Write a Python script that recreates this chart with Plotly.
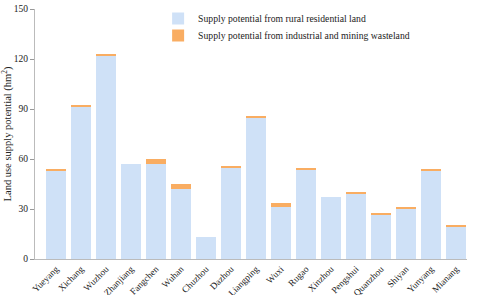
import plotly.graph_objects as go

cities = ["Yueyang", "Xichang", "Wuzhou", "Zhanjiang", "Fangchen", "Wuhan", "Chuzhou",
          "Dazhou", "Liangping", "Wuxi", "Rugao", "Xinzhou", "Pengshui", "Quanzhou",
          "Shiyan", "Yunyang", "Mianang"]
rural = [52.6, 91.0, 122.0, 57.0, 57.3, 42.2, 13.0, 54.7, 84.9, 31.4, 53.7, 37.2, 39.1, 26.9, 30.3, 52.9, 19.5]
industrial = [1.5, 1.5, 0.8, 0.0, 2.5, 2.8, 0.0, 0.6, 0.7, 2.2, 0.7, 0.0, 0.7, 0.9, 0.9, 1.1, 0.9]
yticks = [0, 30, 60, 90, 120, 150]

font = "Liberation Serif, Times New Roman, serif"

fig = go.Figure()
fig.add_trace(go.Bar(x=cities, y=rural, name="Supply potential from rural residential land",
                     marker=dict(color="#cfe1f7", line=dict(width=0)), legend="legend"))
fig.add_trace(go.Bar(x=cities, y=industrial, name="Supply potential from industrial and mining wasteland",
                     marker=dict(color="#f9ad62", line=dict(width=0)), legend="legend2"))

leg_common = dict(xanchor="left", yanchor="top", bgcolor="rgba(0,0,0,0)",
                  font=dict(size=9.7, family=font), itemwidth=30)
fig.update_layout(
    barmode="stack", bargap=0.2,
    width=480, height=295,
    margin=dict(l=35, r=13, t=9, b=36, autoexpand=False),
    plot_bgcolor="white", paper_bgcolor="white",
    font=dict(family=font, size=9, color="#222"),
    legend=dict(x=0.285, y=1.02, **leg_common),
    legend2=dict(x=0.285, y=0.952, **leg_common),
    showlegend=True,
)
fig.update_xaxes(range=[-0.84, 16.44], showline=True, linecolor="#bbb", linewidth=1,
                 ticks="", tickangle=-45, tickfont=dict(size=9.3, family=font),
                 showgrid=False, automargin=False)
fig.update_yaxes(range=[0, 150], tickvals=yticks, showline=True, linecolor="#bbb", linewidth=1,
                 ticks="outside", ticklen=4, tickcolor="#999", showgrid=False, zeroline=False,
                 tickfont=dict(size=9.5, family=font), automargin=False,
                 title=dict(text="Land use supply potential (hm<sup>2</sup>)",
                            font=dict(size=10.5, family=font), standoff=1))

fig.write_html("out.html", config={"displayModeBar": False})

with open("out.html", "r", encoding="utf-8") as f:
    html = f.read()
html = html.replace("<body>", '<body style="margin:0;overflow:hidden">', 1)
with open("out.html", "w", encoding="utf-8") as f:
    f.write(html)
